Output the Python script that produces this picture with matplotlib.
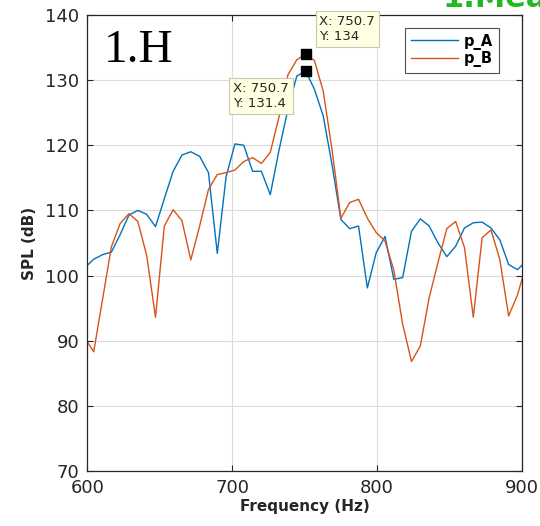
import numpy as np
import matplotlib
matplotlib.use('Agg')
import matplotlib.pyplot as plt

# frequency grid (Hz), bins spaced ~6.1 Hz, one bin sits on the 750.7 Hz peak
freq = np.round(750.7 + 6.1 * np.arange(-25, 26), 1)

p_A = [101.2, 102.5, 103.2, 103.6, 106.3, 109.3, 110.0, 109.4, 107.5, 111.8,
       116.0, 118.5, 119.0, 118.3, 115.8, 103.4, 115.2, 120.2, 120.0, 116.0,
       116.0, 112.4, 119.3, 125.5, 130.6, 131.4, 128.6, 124.5, 117.0, 108.6,
       107.2, 107.6, 98.1, 103.5, 106.0, 99.4, 99.7, 106.8, 108.7, 107.6,
       105.0, 102.9, 104.5, 107.3, 108.1, 108.2, 107.3, 105.5, 101.7, 100.9,
       102.2]

p_B = [90.4, 88.3, 96.3, 104.4, 108.0, 109.5, 108.3, 103.1, 93.6, 107.6,
       110.1, 108.4, 102.4, 107.6, 113.2, 115.5, 115.8, 116.2, 117.5, 118.1,
       117.2, 118.9, 124.4, 130.8, 133.1, 134.0, 133.0, 128.3, 119.3, 108.8,
       111.2, 111.7, 108.8, 106.6, 105.3, 100.8, 92.5, 86.8, 89.2, 96.6,
       102.0, 107.2, 108.3, 104.3, 93.6, 105.8, 107.0, 102.5, 93.8, 97.0,
       101.7]

x_ticks = [600, 700, 800, 900]
y_ticks = [70, 80, 90, 100, 110, 120, 130, 140]

blue = '#0072BD'
orange = '#D95319'
dark = '#262626'

fig = plt.figure(figsize=(5.4, 5.26), dpi=100)
ax = fig.add_axes([0.162, 0.1046, 0.804, 0.867])

ax.plot(freq, p_A, color=blue, lw=1.0, label='p_A')
ax.plot(freq, p_B, color=orange, lw=1.0, label='p_B')

ax.set_xlim(600, 900)
ax.set_ylim(70, 140)
ax.set_xticks(x_ticks)
ax.set_yticks(y_ticks)
ax.grid(True, color='#dcdcdc', lw=0.8)
ax.set_axisbelow(True)
ax.tick_params(direction='in', length=4, width=0.8, colors=dark, labelsize=13,
               top=True, right=True, pad=6)
for s in ax.spines.values():
    s.set_color(dark)
    s.set_linewidth(0.9)

ax.set_xlabel('Frequency (Hz)', fontsize=11, fontweight='bold', color=dark, labelpad=1)
ax.set_ylabel('SPL (dB)', fontsize=11, fontweight='bold', color=dark, labelpad=6)

leg = ax.legend(loc='upper right', bbox_to_anchor=(0.947, 0.972),
                prop={'weight': 'bold', 'size': 10.5}, handlelength=3.2,
                frameon=True, fancybox=False, borderpad=0.4, labelspacing=0.1,
                handletextpad=0.4, borderaxespad=0)
leg.get_frame().set_edgecolor(dark)
leg.get_frame().set_linewidth(0.8)

# data tips
i_pk = int(np.argmax(p_B))
tip_box = dict(boxstyle='square,pad=0.3', fc='#ffffe1', ec='#c8c8b4', lw=0.8)
ax.plot(freq[i_pk], p_B[i_pk], 's', color='black', ms=7, zorder=5)
ax.plot(freq[i_pk], p_A[i_pk], 's', color='black', ms=7, zorder=5)
ax.annotate(f'X: {freq[i_pk]:.1f}\nY: {p_B[i_pk]:g}', (freq[i_pk], p_B[i_pk]),
            xytext=(10, 8), textcoords='offset points', fontsize=9.5,
            color=dark, bbox=tip_box, va='bottom', ha='left',
            multialignment='left', zorder=6)
ax.annotate(f'X: {freq[i_pk]:.1f}\nY: {p_A[i_pk]:g}', (freq[i_pk], p_A[i_pk]),
            xytext=(-12, -8), textcoords='offset points', fontsize=9.5,
            color=dark, bbox=tip_box, va='top', ha='right',
            multialignment='left', zorder=6)

ax.text(0.037, 0.875, '1.H', transform=ax.transAxes, fontsize=34,
        family='Liberation Serif', color='black', va='bottom')

fig.text(0.82, 1 - 7 / 526, '1.Meas', fontsize=22, fontweight='bold',
         color='#22b822', va='baseline', ha='left')

fig.savefig('out.png', dpi=100)
